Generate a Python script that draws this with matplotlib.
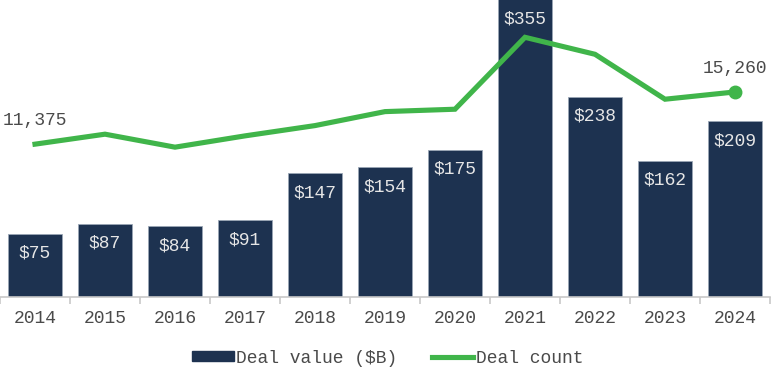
import matplotlib.pyplot as plt
import numpy as np

years = ["2014", "2015", "2016", "2017", "2018", "2019", "2020", "2021", "2022", "2023", "2024"]
deal_value = [75, 87, 84, 91, 147, 154, 175, 355, 238, 162, 209]
deal_count = [11375, 12118, 11152, 11992, 12757, 13797, 13975, 19325, 18062, 14719, 15260]

navy = "#1d3250"
green = "#40b54a"
text_gray = "#4a4a4a"

plt.rcParams["font.family"] = ["Liberation Mono", "DejaVu Sans Mono"]

fig = plt.figure(figsize=(7.71, 3.77), dpi=100)
ax = fig.add_axes([0.0, 0.212, 0.9987, 0.788])
x = np.arange(len(years))

ax.bar(x, deal_value, width=0.76, color=navy, edgecolor="#9aa6b5", linewidth=0.6, zorder=2)
ax.set_ylim(0, 353)
ax.set_xlim(-0.5, len(years) - 0.5)

# etiquetas dentro de las barras
for xi, v in zip(x, deal_value):
    ax.annotate(f"${v}", (xi, min(v, 353)), xytext=(0, -14), textcoords="offset points",
                ha="center", va="center", color="#e6e6e6", fontsize=13, zorder=3,
                annotation_clip=False)

ax2 = ax.twinx()
ax2.set_ylim(0, 22100)
ax2.plot(x, deal_count, color=green, linewidth=3.7, solid_joinstyle="miter", zorder=4)
ax2.plot(x[-1], deal_count[-1], "o", color=green, markersize=9, zorder=5)
for i in (0, len(years) - 1):
    ax2.annotate(f"{deal_count[i]:,}", (x[i], deal_count[i]), xytext=(0, 17), textcoords="offset points",
                 ha="center", va="center", color=text_gray, fontsize=13)

for a in (ax, ax2):
    for s in ("top", "right", "left"):
        a.spines[s].set_visible(False)
    a.set_yticks([])
ax2.spines["bottom"].set_visible(False)
ax.spines["bottom"].set_color("#c8c8c8")
ax.spines["bottom"].set_linewidth(1.2)

ax.set_xticks(x)
ax.set_xticklabels(years, fontsize=13, color=text_gray)
ax.tick_params(axis="x", which="major", length=0, pad=9)
ax.set_xticks(np.arange(-0.5, len(years)), minor=True)
ax.tick_params(axis="x", which="minor", length=5, color="#c8c8c8", width=1.2)

handles = [plt.Rectangle((0, 0), 1, 1, color=navy),
           plt.Line2D([0], [0], color=green, linewidth=3.7)]
fig.legend(handles, ["Deal value ($B)", "Deal count"], loc="center", bbox_to_anchor=(0.503, 0.05),
           ncol=2, frameon=False, fontsize=13, labelcolor=text_gray, handlelength=2.3,
           handleheight=0.5, handletextpad=0.15, columnspacing=1.9)

fig.savefig("out.png", dpi=100)
